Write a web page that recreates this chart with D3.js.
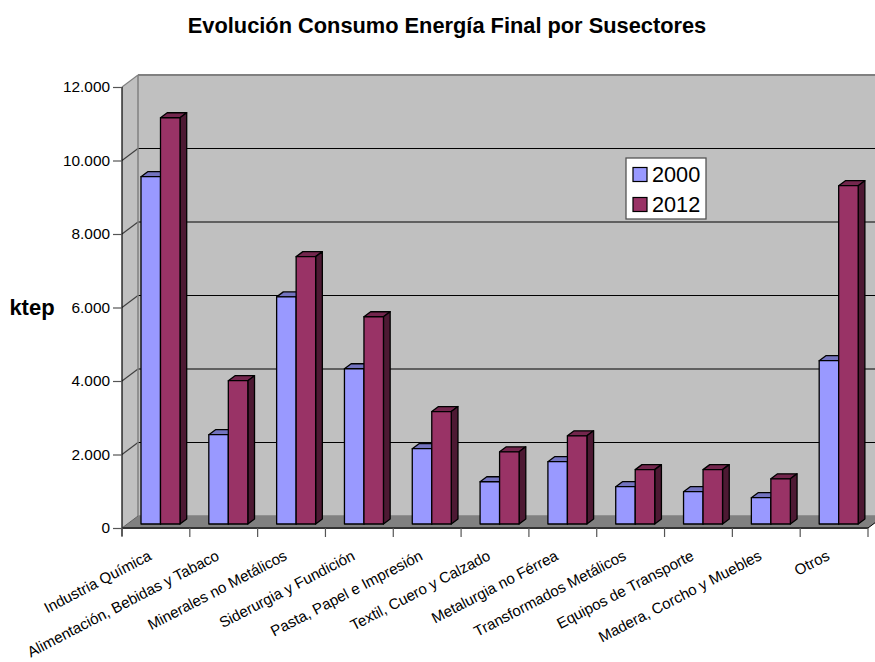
<!DOCTYPE html>
<html><head><meta charset="utf-8">
<script src="https://cdn.jsdelivr.net/npm/d3@7/dist/d3.min.js"></script>
<style>html,body{margin:0;padding:0;background:#fff}svg{display:block}text{font-family:"Liberation Sans",Arial,sans-serif;fill:#000}</style>
</head><body><svg id="c" width="875" height="662"></svg>
<script>
const categories=["Industria Química","Alimentación, Bebidas y Tabaco","Minerales no Metálicos","Siderurgia y Fundición","Pasta, Papel e Impresión","Textil, Cuero y Calzado","Metalurgia no Férrea","Transformados Metálicos","Equipos de Transporte","Madera, Corcho y Muebles","Otros"];
const values2000=[9450,2430,6180,4225,2050,1150,1695,1015,880,715,4445];
const values2012=[11055,3900,7275,5640,3060,1965,2400,1480,1480,1230,9205];
const seriesNames=["2000","2012"];
const yTicks=[0,2000,4000,6000,8000,10000,12000];
const chartTitle="Evolución Consumo Energía Final por Susectores";
const yTitle="ktep";

const svg=d3.select("#c");
const x0=122,x1=868,yB=528,yT=87,dx=16,dy=-12;
const x=d3.scaleBand().domain(categories).range([x0,x1]);
const sub=d3.scaleBand().domain(seriesNames).range([14,53]);
const y=d3.scaleLinear().domain([0,12000]).range([yB,yT]);
const fmt=v=>d3.format(",")(v).replace(/,/g,".");
const pts=a=>a.map(p=>p.join(",")).join(" ");

// walls and floor
svg.append("polygon").attr("points",pts([[x0,yB],[x0,yT],[x0+dx,yT+dy],[x0+dx,yB+dy]])).attr("fill","#c0c0c0");
svg.append("rect").attr("x",x0+dx).attr("y",yT+dy).attr("width",875-x0-dx+2).attr("height",yB-yT).attr("fill","#c0c0c0");
svg.append("polygon").attr("points",pts([[x0,yB],[x0+dx,yB+dy],[x1+dx,yB+dy],[x1,yB]])).attr("fill","#808080");
// gridlines
yTicks.filter(t=>t>0).forEach(t=>{
  const c=t===12000?"#808080":"#000";
  svg.append("line").attr("x1",x0+dx).attr("x2",876).attr("y1",y(t)+dy).attr("y2",y(t)+dy).attr("stroke",c).attr("stroke-width",t===12000?2:1);
  svg.append("line").attr("x1",x0).attr("x2",x0+dx).attr("y1",y(t)).attr("y2",y(t)+dy).attr("stroke",t===12000?"#808080":"#404040").attr("stroke-width",1.2);
});
svg.append("line").attr("x1",x0+dx).attr("x2",x0+dx).attr("y1",yT+dy).attr("y2",yB+dy).attr("stroke","#808080").attr("stroke-width",1.5);
svg.append("line").attr("x1",x0+dx).attr("x2",876).attr("y1",yB+dy).attr("y2",yB+dy).attr("stroke","#808080").attr("stroke-width",1.5);
svg.append("line").attr("x1",x0).attr("x2",x0+dx).attr("y1",yB).attr("y2",yB+dy).attr("stroke","#606060");
svg.append("line").attr("x1",x1).attr("x2",x1+dx).attr("y1",yB).attr("y2",yB+dy).attr("stroke","#000");

// bars
const barOX=5,barOY=-4,bdx=6.7,bdy=-5;
const series=[{name:"2000",vals:values2000,front:"#9999ff",top:"#7373bf",side:"#4d4d80"},{name:"2012",vals:values2012,front:"#993366",top:"#73264d",side:"#4d1933"}];
categories.forEach((c,i)=>{
  series.forEach(s=>{
    const g=svg.append("g").attr("stroke","#000").attr("stroke-width",1.3).attr("stroke-linejoin","round");
    const L=x(c)+sub(s.name)+barOX, R=L+sub.bandwidth(), T=y(s.vals[i])+barOY, B=yB+barOY;
    g.append("polygon").attr("points",pts([[L,T],[L+bdx,T+bdy],[R+bdx,T+bdy],[R,T]])).attr("fill",s.top);
    g.append("polygon").attr("points",pts([[R,T],[R+bdx,T+bdy],[R+bdx,B+bdy],[R,B]])).attr("fill",s.side);
    g.append("rect").attr("x",L).attr("y",T).attr("width",R-L).attr("height",B-T).attr("fill",s.front);
  });
});

// y axis
const ya=svg.append("g").attr("transform",`translate(${x0},0)`).call(d3.axisLeft(y).tickValues(yTicks).tickFormat(fmt).tickSize(9).tickPadding(3));
ya.select(".domain").attr("stroke","#000").attr("stroke-width",1.2).attr("d",`M0,${yT}V${yB+8}`);
ya.selectAll(".tick line").attr("stroke","#555").attr("stroke-width",1.2);
ya.selectAll("text").attr("font-size",15.4).attr("font-family","Liberation Sans");

// x axis
const xa=svg.append("g").attr("transform",`translate(0,${yB})`);
xa.append("line").attr("x1",x0).attr("x2",x1).attr("y1",0).attr("y2",0).attr("stroke","#333").attr("stroke-width",2);
[...categories.map(c=>x(c)),x1].forEach(p=>{
  xa.append("line").attr("x1",p).attr("x2",p).attr("y1",0).attr("y2",9).attr("stroke","#555").attr("stroke-width",1.2);
});
categories.forEach(c=>{
  const cx=x(c)+x.bandwidth()/2;
  xa.append("text").attr("text-anchor","end").attr("font-size",15.1)
    .attr("transform",`translate(${cx-3.5},${31}) rotate(-27.5)`).text(c);
});

// titles
svg.append("text").attr("x",447).attr("y",33).attr("text-anchor","middle").attr("font-weight","bold").attr("font-size",21.8).text(chartTitle);
svg.append("text").attr("x",32).attr("y",315).attr("text-anchor","middle").attr("font-weight","bold").attr("font-size",22).text(yTitle);

// legend
const lg=svg.append("g").attr("transform","translate(626,158)");
lg.append("rect").attr("width",80).attr("height",61).attr("fill","#fff").attr("stroke","#555").attr("stroke-width",1.3);
series.forEach((s,i)=>{
  const row=lg.append("g").attr("transform",`translate(7,${9.5+i*30})`);
  row.append("rect").attr("width",14).attr("height",14).attr("fill",s.front).attr("stroke","#000").attr("stroke-width",1.2);
  row.append("text").attr("x",19).attr("y",14.5).attr("font-size",21.7).text(s.name);
});
</script></body></html>
